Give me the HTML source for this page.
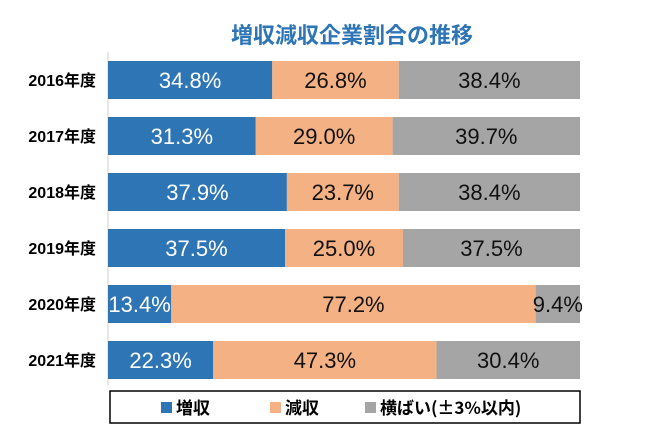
<!DOCTYPE html>
<html><head><meta charset="utf-8"><style>
body{margin:0;background:#fff;}
svg text{font-family:"Liberation Sans Narrow","Liberation Sans","Noto Sans CJK JP",sans-serif;}
</style></head><body>
<svg id="c" width="650" height="443">
<text x="352" y="43" text-anchor="middle" font-size="22" font-weight="bold" fill="#2e75b6" style="font-family:'Noto Sans CJK JP',sans-serif">増収減収企業割合の推移</text>
<line x1="108" y1="52" x2="108" y2="385" stroke="#d0d0d0"/>
<g id="bars"></g>
<rect x="110" y="391" width="470" height="32" fill="#fff" stroke="#000" stroke-width="1.5"/>
<g font-size="17" font-weight="bold">
<rect x="161" y="402" width="11" height="11" fill="#2e75b6"/>
<text x="176" y="414" style="font-family:'Noto Sans CJK JP',sans-serif">増収</text>
<rect x="270" y="402" width="11" height="11" fill="#f4b183"/>
<text x="285" y="414" style="font-family:'Noto Sans CJK JP',sans-serif">減収</text>
<rect x="365" y="402" width="11" height="11" fill="#a5a5a5"/>
<text x="380" y="414" style="font-family:'Noto Sans CJK JP',sans-serif">横ばい(±3%以内)</text>
</g>
</svg>
<script>
const categories=["2016年度","2017年度","2018年度","2019年度","2020年度","2021年度"];
const increase=[34.8,31.3,37.9,37.5,13.4,22.3];
const decrease=[26.8,29.0,23.7,25.0,77.2,47.3];
const flat=[38.4,39.7,38.4,37.5,9.4,30.4];
const colors=["#2e75b6","#f4b183","#a5a5a5"];
const textColors=["#fff","#111","#111"];
const names=["increase","decrease","flat"];
const x0=108,x1=580,top0=61,pitch=56,bh=38;
const xs=v=>(x1-x0)*v/100;
const ys=i=>top0+i*pitch;
const g=document.getElementById('bars');
const ns="http://www.w3.org/2000/svg";
categories.forEach((c,i)=>{
  const t=document.createElementNS(ns,'text');
  
  
  t.setAttribute('x',96);t.setAttribute('y',ys(i)+bh/2+6);
  t.setAttribute('text-anchor','end');t.setAttribute('font-size','16');t.setAttribute('font-weight','bold');
  t.textContent=c;g.appendChild(t);
  let cx=x0;
  [increase[i],decrease[i],flat[i]].forEach((v,k)=>{
    const w=xs(v);
    const r=document.createElementNS(ns,'rect');
    
    
    r.setAttribute('x',cx);r.setAttribute('y',ys(i));r.setAttribute('width',w);r.setAttribute('height',bh);
    r.setAttribute('fill',colors[k]);g.appendChild(r);
    const l=document.createElementNS(ns,'text');
    
    
    l.setAttribute('x',cx+w/2);l.setAttribute('y',ys(i)+bh/2+8);
    l.setAttribute('text-anchor','middle');l.setAttribute('font-size','22');
    l.setAttribute('fill',textColors[k]);
    l.textContent=v.toFixed(1)+'%';g.appendChild(l);
    cx+=w;
  });
});
</script>
</body></html>
